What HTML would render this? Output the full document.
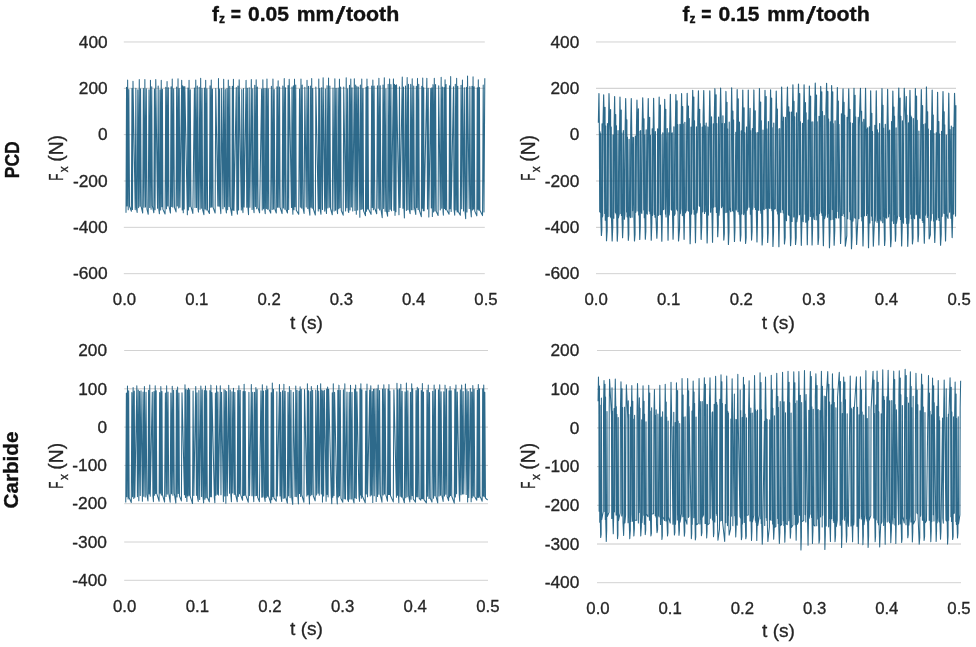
<!DOCTYPE html>
<html><head><meta charset="utf-8"><title>Cutting force Fx</title>
<style>html,body{margin:0;padding:0;background:#fff}svg{display:block}</style></head>
<body>
<svg width="976" height="647" viewBox="0 0 976 647" font-family="'Liberation Sans', Arial, sans-serif">
<rect width="976" height="647" fill="#ffffff"/>
<defs><filter id="soft" x="-2%" y="-5%" width="104%" height="110%"><feGaussianBlur stdDeviation="0.62 0.35"/></filter></defs>
<line x1="123.8" x2="484.8" y1="41.97" y2="41.97" stroke="#d2d2d2" stroke-width="1"/>
<text x="107.60" y="47.67" font-size="16" text-anchor="end" font-weight="normal" fill="#262626" stroke="#262626" stroke-width="0.3" textLength="28.80" lengthAdjust="spacingAndGlyphs">400</text>
<line x1="123.8" x2="484.8" y1="88.31" y2="88.31" stroke="#d2d2d2" stroke-width="1"/>
<text x="107.60" y="94.01" font-size="16" text-anchor="end" font-weight="normal" fill="#262626" stroke="#262626" stroke-width="0.3" textLength="28.80" lengthAdjust="spacingAndGlyphs">200</text>
<line x1="123.8" x2="484.8" y1="134.65" y2="134.65" stroke="#d2d2d2" stroke-width="1"/>
<text x="107.60" y="140.35" font-size="16" text-anchor="end" font-weight="normal" fill="#262626" stroke="#262626" stroke-width="0.3" textLength="9.60" lengthAdjust="spacingAndGlyphs">0</text>
<line x1="123.8" x2="484.8" y1="180.99" y2="180.99" stroke="#d2d2d2" stroke-width="1"/>
<text x="107.60" y="186.69" font-size="16" text-anchor="end" font-weight="normal" fill="#262626" stroke="#262626" stroke-width="0.3" textLength="34.65" lengthAdjust="spacingAndGlyphs">-200</text>
<line x1="123.8" x2="484.8" y1="227.33" y2="227.33" stroke="#d2d2d2" stroke-width="1"/>
<text x="107.60" y="233.03" font-size="16" text-anchor="end" font-weight="normal" fill="#262626" stroke="#262626" stroke-width="0.3" textLength="34.65" lengthAdjust="spacingAndGlyphs">-400</text>
<line x1="123.8" x2="484.8" y1="273.67" y2="273.67" stroke="#d2d2d2" stroke-width="1"/>
<text x="107.60" y="279.37" font-size="16" text-anchor="end" font-weight="normal" fill="#262626" stroke="#262626" stroke-width="0.3" textLength="34.65" lengthAdjust="spacingAndGlyphs">-600</text>
<text x="124.50" y="305.40" font-size="16" text-anchor="middle" font-weight="normal" fill="#262626" stroke="#262626" stroke-width="0.3" textLength="23.30" lengthAdjust="spacingAndGlyphs">0.0</text>
<text x="196.80" y="305.40" font-size="16" text-anchor="middle" font-weight="normal" fill="#262626" stroke="#262626" stroke-width="0.3" textLength="23.30" lengthAdjust="spacingAndGlyphs">0.1</text>
<text x="269.10" y="305.40" font-size="16" text-anchor="middle" font-weight="normal" fill="#262626" stroke="#262626" stroke-width="0.3" textLength="23.30" lengthAdjust="spacingAndGlyphs">0.2</text>
<text x="341.40" y="305.40" font-size="16" text-anchor="middle" font-weight="normal" fill="#262626" stroke="#262626" stroke-width="0.3" textLength="23.30" lengthAdjust="spacingAndGlyphs">0.3</text>
<text x="413.70" y="305.40" font-size="16" text-anchor="middle" font-weight="normal" fill="#262626" stroke="#262626" stroke-width="0.3" textLength="23.30" lengthAdjust="spacingAndGlyphs">0.4</text>
<text x="486.00" y="305.40" font-size="16" text-anchor="middle" font-weight="normal" fill="#262626" stroke="#262626" stroke-width="0.3" textLength="23.30" lengthAdjust="spacingAndGlyphs">0.5</text>
<path d="M126.00 212.71 L126.54 87.29 L127.07 205.94 L127.64 79.96 L128.23 209.70 L128.83 89.55 L129.53 206.27 L131.38 211.27 L131.98 88.61 L132.51 209.57 L132.99 81.23 L135.21 209.61 L135.86 88.19 L136.38 207.74 L137.14 212.49 L137.83 89.74 L138.62 207.60 L139.27 79.43 L139.99 206.13 L140.55 88.69 L141.21 206.59 L142.69 213.01 L143.39 88.45 L144.01 207.22 L144.87 79.57 L145.52 207.08 L146.30 88.82 L146.97 209.20 L148.23 214.29 L149.02 89.77 L149.74 207.42 L150.44 80.18 L151.08 209.26 L151.74 86.69 L152.35 205.86 L153.85 212.82 L154.44 89.08 L155.06 209.83 L155.77 79.53 L157.54 208.32 L158.18 85.95 L158.84 209.40 L159.40 213.84 L160.01 89.83 L160.66 209.96 L161.24 80.23 L161.87 206.71 L162.39 89.30 L162.90 209.39 L165.07 213.93 L165.77 87.22 L166.44 208.84 L167.06 81.46 L167.65 205.88 L168.34 87.67 L168.92 205.76 L170.43 213.11 L171.08 86.80 L171.68 206.56 L172.24 78.98 L172.84 207.12 L173.64 88.83 L174.41 207.32 L176.05 211.92 L176.65 87.01 L177.33 205.92 L178.02 78.83 L178.70 208.08 L179.22 88.41 L179.94 207.34 L181.70 80.32 L182.25 210.02 L182.71 85.72 L183.28 212.84 L183.70 86.73 L184.20 209.07 L184.82 86.45 L187.36 214.79 L187.92 88.10 L188.42 210.02 L189.05 80.31 L189.72 206.70 L190.28 89.78 L190.96 206.47 L192.84 213.43 L194.42 88.06 L195.04 207.45 L195.77 80.11 L196.53 207.58 L197.30 85.98 L197.88 207.35 L198.44 212.12 L199.20 87.18 L200.00 209.18 L200.67 78.23 L201.34 208.29 L202.05 88.40 L202.68 209.84 L203.91 214.73 L204.42 88.02 L205.13 209.02 L205.68 80.30 L206.24 209.99 L206.93 88.82 L207.57 209.75 L209.42 213.50 L210.04 85.88 L210.71 207.19 L211.25 79.95 L211.80 206.97 L212.42 89.06 L213.09 207.42 L215.12 213.01 L215.77 88.57 L217.85 206.05 L218.49 78.56 L219.07 206.30 L219.63 89.11 L220.21 207.01 L220.85 213.64 L221.67 88.54 L222.93 208.79 L223.68 79.38 L224.45 206.82 L225.26 89.41 L225.84 208.76 L226.41 213.04 L226.99 88.63 L227.64 209.66 L228.29 80.03 L229.06 206.49 L229.75 86.30 L230.33 207.13 L231.86 215.50 L232.33 86.31 L232.92 209.99 L233.41 79.29 L233.97 210.40 L236.30 87.52 L236.85 210.00 L237.42 214.16 L237.95 86.06 L238.56 209.99 L239.16 79.77 L241.32 210.09 L241.81 89.57 L242.36 206.45 L242.99 212.61 L243.49 88.58 L244.13 206.99 L246.07 80.30 L246.75 207.29 L247.35 88.34 L247.88 206.90 L248.52 214.71 L249.19 87.73 L249.86 207.14 L251.31 79.43 L252.10 209.43 L252.74 88.72 L253.48 207.58 L254.07 212.72 L254.74 85.23 L255.41 206.50 L256.17 79.81 L256.71 208.65 L257.35 86.96 L258.03 207.55 L259.60 212.85 L261.65 88.99 L262.23 209.89 L262.87 79.77 L263.46 208.76 L264.06 88.43 L264.59 207.65 L265.23 213.82 L265.89 88.42 L266.38 208.58 L266.96 78.97 L267.65 209.31 L268.27 88.73 L268.89 209.12 L270.71 213.13 L271.39 86.35 L272.18 209.55 L272.94 79.10 L273.58 208.95 L274.18 89.46 L274.94 209.29 L276.29 212.97 L276.96 86.87 L277.53 207.24 L278.14 80.66 L278.85 207.24 L279.58 87.11 L280.12 207.50 L282.10 213.59 L282.82 86.07 L283.43 208.09 L284.25 78.64 L284.88 209.27 L285.51 87.79 L286.13 209.79 L287.46 213.01 L288.07 85.55 L288.67 209.55 L289.19 79.32 L291.46 207.58 L292.00 87.10 L292.55 206.90 L292.89 214.19 L293.38 85.68 L293.98 209.76 L294.51 79.15 L295.06 206.77 L295.74 85.03 L296.27 210.20 L298.72 214.35 L299.55 88.96 L300.37 207.11 L300.97 78.97 L301.63 208.11 L302.21 85.10 L303.01 208.13 L304.09 213.51 L304.85 87.36 L306.23 206.89 L307.03 80.21 L307.81 208.41 L308.47 86.33 L309.06 208.83 L309.88 215.21 L310.39 86.04 L311.06 207.17 L311.70 78.59 L312.23 208.14 L312.77 88.58 L313.47 209.36 L315.32 215.00 L315.85 87.05 L318.25 211.03 L318.78 79.05 L319.28 208.75 L319.86 88.52 L320.33 210.81 L320.97 214.33 L321.65 87.83 L322.45 209.52 L323.13 77.86 L324.71 211.11 L325.35 89.00 L325.92 208.07 L326.50 213.57 L327.08 85.65 L327.86 208.00 L328.54 78.02 L329.30 207.19 L329.87 85.91 L330.57 208.74 L332.29 214.74 L333.00 88.03 L334.12 210.99 L334.86 78.83 L335.52 210.14 L336.16 88.26 L336.95 209.24 L337.57 213.62 L338.11 87.96 L338.76 208.75 L339.46 79.15 L339.99 207.80 L340.62 87.07 L341.30 210.48 L343.19 215.17 L343.73 87.07 L345.63 210.93 L346.21 77.78 L346.87 207.77 L347.64 88.69 L348.19 210.95 L348.74 212.56 L349.49 85.18 L350.02 209.88 L350.79 79.05 L351.37 207.09 L352.03 87.89 L352.75 210.93 L354.34 78.79 L354.96 210.53 L355.69 85.10 L356.30 214.34 L356.94 86.58 L357.67 209.91 L358.31 87.13 L359.83 217.14 L360.36 85.10 L361.10 209.59 L361.77 79.00 L362.31 208.85 L363.03 88.64 L363.55 210.88 L365.44 215.67 L366.02 87.17 L366.43 211.28 L366.97 79.10 L367.44 209.05 L367.97 86.49 L368.53 209.07 L371.06 214.38 L371.68 86.07 L372.31 207.43 L372.86 79.91 L373.40 209.81 L374.11 86.08 L374.78 208.25 L376.69 213.79 L377.46 85.73 L378.24 208.27 L378.90 78.24 L379.65 210.00 L380.23 85.81 L380.91 208.83 L382.22 217.77 L383.01 85.03 L383.62 208.56 L384.31 77.72 L385.11 211.35 L385.89 88.66 L386.44 210.80 L387.61 216.14 L388.16 84.32 L388.95 211.59 L389.60 78.90 L390.20 209.29 L390.93 84.64 L391.47 210.84 L393.44 78.90 L393.90 210.37 L394.52 84.39 L395.02 215.37 L395.52 85.24 L395.96 211.68 L396.56 84.83 L398.95 214.63 L399.45 86.84 L400.09 207.58 L402.27 76.93 L402.93 208.19 L403.51 87.09 L404.03 209.52 L404.39 217.86 L405.54 85.99 L406.35 210.49 L407.16 77.45 L407.80 209.62 L408.44 84.23 L409.26 209.90 L410.12 213.63 L410.73 84.40 L411.41 209.64 L412.21 78.81 L412.95 209.67 L413.72 86.11 L414.45 207.67 L415.77 214.51 L416.34 86.23 L416.85 207.60 L417.49 78.40 L418.09 209.55 L418.73 84.38 L419.31 210.05 L421.32 216.71 L421.80 86.17 L422.35 208.16 L422.73 78.09 L423.25 210.71 L423.72 87.68 L424.16 210.72 L426.85 78.28 L427.52 209.05 L428.20 88.36 L428.81 216.93 L430.77 88.44 L431.28 208.07 L431.88 87.66 L432.35 216.55 L433.00 84.65 L433.59 212.04 L434.30 78.24 L434.92 210.91 L435.56 84.62 L436.22 211.25 L438.10 215.42 L438.70 85.75 L440.28 209.87 L441.16 77.29 L441.75 208.20 L442.39 87.00 L443.05 211.72 L443.38 215.19 L444.01 87.58 L444.52 208.57 L445.07 79.79 L445.53 209.66 L446.09 84.56 L446.69 209.75 L449.06 214.27 L449.57 85.77 L450.05 208.72 L450.67 76.52 L451.15 211.44 L453.50 86.78 L454.01 209.00 L454.72 215.19 L455.31 84.20 L455.96 210.03 L456.64 78.26 L457.17 212.05 L457.76 86.34 L458.22 211.43 L460.35 215.27 L461.06 85.16 L461.69 208.81 L462.42 79.94 L463.54 211.01 L464.28 87.86 L465.08 211.94 L465.70 218.69 L466.39 87.26 L466.94 211.92 L467.52 76.10 L469.21 208.42 L469.87 86.42 L470.53 208.36 L471.32 216.86 L471.99 86.24 L472.58 210.09 L473.06 76.89 L473.62 208.97 L474.17 86.71 L474.76 211.09 L476.83 215.85 L477.26 87.72 L477.84 209.26 L478.31 79.67 L478.89 210.32 L479.42 87.40 L479.93 210.25 L482.54 215.60 L483.22 85.06 L483.97 211.91 L484.80 78.20" fill="none" stroke="#2d6a8b" stroke-width="1.05" stroke-linejoin="round" filter="url(#soft)"/>
<line x1="124.5" x2="484.8" y1="88.31" y2="88.31" stroke="#000" stroke-opacity="0.045" stroke-width="1"/>
<line x1="124.5" x2="484.8" y1="134.65" y2="134.65" stroke="#000" stroke-opacity="0.045" stroke-width="1"/>
<line x1="124.5" x2="484.8" y1="180.99" y2="180.99" stroke="#000" stroke-opacity="0.045" stroke-width="1"/>
<line x1="596.0" x2="956.0" y1="41.97" y2="41.97" stroke="#d2d2d2" stroke-width="1"/>
<text x="579.30" y="47.67" font-size="16" text-anchor="end" font-weight="normal" fill="#262626" stroke="#262626" stroke-width="0.3" textLength="28.80" lengthAdjust="spacingAndGlyphs">400</text>
<line x1="596.0" x2="956.0" y1="88.31" y2="88.31" stroke="#d2d2d2" stroke-width="1"/>
<text x="579.30" y="94.01" font-size="16" text-anchor="end" font-weight="normal" fill="#262626" stroke="#262626" stroke-width="0.3" textLength="28.80" lengthAdjust="spacingAndGlyphs">200</text>
<line x1="596.0" x2="956.0" y1="134.65" y2="134.65" stroke="#d2d2d2" stroke-width="1"/>
<text x="579.30" y="140.35" font-size="16" text-anchor="end" font-weight="normal" fill="#262626" stroke="#262626" stroke-width="0.3" textLength="9.60" lengthAdjust="spacingAndGlyphs">0</text>
<line x1="596.0" x2="956.0" y1="180.99" y2="180.99" stroke="#d2d2d2" stroke-width="1"/>
<text x="579.30" y="186.69" font-size="16" text-anchor="end" font-weight="normal" fill="#262626" stroke="#262626" stroke-width="0.3" textLength="34.65" lengthAdjust="spacingAndGlyphs">-200</text>
<line x1="596.0" x2="956.0" y1="227.33" y2="227.33" stroke="#d2d2d2" stroke-width="1"/>
<text x="579.30" y="233.03" font-size="16" text-anchor="end" font-weight="normal" fill="#262626" stroke="#262626" stroke-width="0.3" textLength="34.65" lengthAdjust="spacingAndGlyphs">-400</text>
<line x1="596.0" x2="956.0" y1="273.67" y2="273.67" stroke="#d2d2d2" stroke-width="1"/>
<text x="579.30" y="279.37" font-size="16" text-anchor="end" font-weight="normal" fill="#262626" stroke="#262626" stroke-width="0.3" textLength="34.65" lengthAdjust="spacingAndGlyphs">-600</text>
<text x="596.10" y="305.40" font-size="16" text-anchor="middle" font-weight="normal" fill="#262626" stroke="#262626" stroke-width="0.3" textLength="23.30" lengthAdjust="spacingAndGlyphs">0.0</text>
<text x="668.70" y="305.40" font-size="16" text-anchor="middle" font-weight="normal" fill="#262626" stroke="#262626" stroke-width="0.3" textLength="23.30" lengthAdjust="spacingAndGlyphs">0.1</text>
<text x="741.30" y="305.40" font-size="16" text-anchor="middle" font-weight="normal" fill="#262626" stroke="#262626" stroke-width="0.3" textLength="23.30" lengthAdjust="spacingAndGlyphs">0.2</text>
<text x="813.90" y="305.40" font-size="16" text-anchor="middle" font-weight="normal" fill="#262626" stroke="#262626" stroke-width="0.3" textLength="23.30" lengthAdjust="spacingAndGlyphs">0.3</text>
<text x="886.50" y="305.40" font-size="16" text-anchor="middle" font-weight="normal" fill="#262626" stroke="#262626" stroke-width="0.3" textLength="23.30" lengthAdjust="spacingAndGlyphs">0.4</text>
<text x="959.10" y="305.40" font-size="16" text-anchor="middle" font-weight="normal" fill="#262626" stroke="#262626" stroke-width="0.3" textLength="23.30" lengthAdjust="spacingAndGlyphs">0.5</text>
<path d="M598.38 122.73 L598.95 93.51 L599.39 131.64 L599.73 211.77 L600.06 131.82 L600.33 212.30 L600.59 133.56 L600.83 217.30 L601.40 235.45 L601.82 229.94 L602.05 123.80 L602.37 217.04 L602.71 215.70 L603.05 123.50 L603.67 94.71 L604.34 129.72 L604.71 213.39 L605.02 107.33 L605.30 220.14 L605.66 126.05 L606.06 211.81 L606.52 240.72 L607.15 230.59 L607.44 123.50 L607.77 211.41 L608.15 216.55 L608.45 133.36 L608.99 93.69 L609.86 130.01 L610.20 216.35 L610.57 109.57 L610.84 217.63 L611.22 126.97 L611.55 218.91 L612.15 240.92 L612.72 227.35 L613.08 135.01 L613.38 212.15 L613.80 218.17 L614.14 125.42 L614.64 96.55 L615.08 135.18 L615.39 212.36 L615.71 114.53 L616.07 213.80 L616.43 125.72 L616.68 213.76 L617.26 241.11 L617.74 231.67 L618.07 130.58 L618.36 217.94 L619.21 213.82 L619.52 134.44 L619.98 97.08 L620.56 130.55 L620.83 213.45 L621.21 110.00 L621.48 215.51 L621.79 132.91 L622.11 219.68 L622.58 237.76 L623.09 225.09 L623.38 130.57 L624.39 219.15 L624.83 214.18 L625.12 132.03 L625.67 98.61 L626.28 130.14 L626.56 211.93 L626.86 119.80 L627.11 216.86 L627.44 137.08 L627.74 210.34 L628.32 240.32 L628.79 234.45 L629.12 139.22 L629.45 212.69 L630.42 217.58 L630.75 127.71 L631.27 98.58 L631.75 132.55 L632.04 217.16 L632.30 137.16 L632.60 210.56 L633.59 137.45 L633.88 213.33 L634.48 241.02 L635.03 234.19 L635.36 136.00 L635.72 212.41 L636.09 210.21 L636.48 127.65 L636.96 100.18 L637.64 136.35 L638.02 210.99 L638.37 108.92 L638.69 214.92 L638.99 131.11 L639.27 214.32 L639.74 239.51 L640.27 226.17 L640.60 130.49 L640.98 209.86 L641.82 213.48 L642.14 128.59 L642.72 97.87 L643.36 127.05 L643.72 209.89 L643.98 118.71 L644.30 217.64 L644.58 134.94 L644.85 214.33 L645.33 239.25 L645.81 231.29 L646.19 129.85 L646.54 211.39 L647.25 214.14 L647.64 130.30 L648.25 98.61 L648.71 131.95 L649.29 211.11 L649.67 117.33 L650.05 213.79 L650.40 135.22 L650.71 212.26 L651.24 240.24 L651.84 223.00 L652.22 128.86 L652.53 215.35 L652.80 212.07 L653.09 139.19 L653.62 98.31 L654.11 127.43 L654.41 214.43 L654.72 134.99 L655.06 217.16 L655.38 131.67 L655.71 211.95 L656.85 238.29 L657.33 226.87 L657.62 128.94 L658.01 208.96 L658.36 215.35 L658.66 137.45 L659.15 97.17 L659.73 137.02 L660.08 214.44 L660.34 105.19 L660.61 214.65 L660.90 134.89 L661.20 209.57 L661.82 241.15 L662.43 209.53 L662.80 132.76 L663.13 209.71 L663.93 209.35 L664.25 129.15 L664.72 99.36 L665.20 126.63 L665.50 214.07 L665.80 109.32 L666.06 216.90 L667.24 128.56 L667.55 208.77 L668.05 240.23 L668.57 211.21 L668.86 132.76 L669.17 214.92 L669.38 211.78 L669.73 129.34 L670.35 94.33 L670.97 132.66 L671.26 209.55 L671.61 133.94 L671.98 210.32 L672.25 132.77 L672.55 215.09 L673.06 239.27 L673.61 223.72 L673.90 126.72 L674.24 215.44 L675.04 213.80 L675.32 130.42 L675.89 94.63 L676.40 130.79 L676.68 209.28 L677.08 100.83 L677.40 210.66 L677.74 124.63 L678.07 212.01 L678.54 240.87 L679.58 228.17 L679.98 124.31 L680.28 213.62 L680.87 208.12 L681.11 128.92 L681.59 93.65 L682.11 127.77 L682.36 215.55 L682.70 106.50 L682.95 208.89 L683.27 123.84 L683.52 211.35 L684.09 239.34 L684.53 215.49 L684.85 122.24 L685.18 212.90 L686.34 210.57 L686.66 127.15 L687.18 93.29 L687.73 122.73 L688.07 210.40 L688.44 106.06 L688.85 211.30 L689.24 118.55 L689.57 212.39 L690.14 243.76 L690.71 224.17 L691.01 127.17 L691.42 214.19 L691.71 212.49 L692.00 128.34 L692.72 90.31 L693.20 120.95 L693.53 209.31 L693.84 97.06 L694.12 214.25 L694.48 120.73 L694.77 206.42 L695.47 242.79 L696.12 206.24 L696.45 126.81 L696.85 212.95 L697.44 209.01 L697.76 119.14 L698.44 90.76 L698.95 126.91 L699.28 205.75 L699.68 109.33 L699.95 206.51 L700.26 123.57 L700.64 212.94 L701.12 239.36 L701.79 223.72 L702.18 127.17 L702.47 211.82 L702.88 211.36 L703.16 116.60 L703.75 90.52 L704.20 117.33 L704.53 213.49 L704.88 125.84 L705.81 211.60 L706.17 123.06 L706.51 210.27 L707.13 242.90 L707.61 225.70 L707.92 126.95 L708.19 211.79 L708.38 215.11 L709.20 125.74 L709.77 90.91 L710.28 115.71 L710.60 212.27 L710.93 125.05 L711.25 207.69 L711.52 116.94 L711.90 210.51 L712.54 242.30 L712.98 211.60 L713.36 123.77 L713.68 207.22 L713.97 206.76 L714.26 120.05 L714.89 88.70 L715.45 113.01 L715.79 206.81 L716.10 94.80 L716.42 212.50 L716.79 123.62 L717.12 206.29 L717.72 236.66 L718.27 224.19 L718.61 117.11 L719.01 215.22 L719.66 205.60 L719.98 121.62 L720.61 88.14 L721.21 118.05 L721.56 207.62 L722.31 123.48 L722.57 206.06 L722.92 115.85 L723.23 209.97 L723.82 240.06 L724.31 233.77 L724.62 123.63 L724.98 209.22 L725.17 212.62 L725.51 128.16 L725.95 91.45 L726.39 120.18 L726.72 212.30 L726.99 102.23 L727.30 206.62 L727.60 128.94 L727.86 212.82 L728.42 244.45 L728.98 231.70 L729.23 122.14 L729.50 207.64 L730.81 211.75 L731.16 125.09 L731.65 87.91 L732.20 121.47 L732.57 210.51 L732.90 111.13 L733.22 211.62 L733.57 119.95 L733.86 210.76 L734.47 241.40 L734.90 230.26 L735.82 132.22 L736.10 206.76 L736.33 209.88 L736.67 130.57 L737.17 89.48 L737.63 131.50 L737.91 211.68 L738.26 98.90 L739.12 214.13 L739.47 122.17 L739.73 213.11 L740.36 241.06 L740.88 234.93 L741.25 130.91 L741.58 209.98 L741.81 213.83 L742.14 130.72 L742.79 90.13 L743.27 127.52 L743.66 214.58 L744.08 107.77 L744.43 212.86 L744.75 132.80 L745.06 214.15 L745.57 243.36 L746.12 237.69 L746.51 126.95 L746.79 210.57 L747.45 208.43 L747.80 130.90 L748.26 89.98 L748.76 126.21 L749.07 207.26 L750.08 108.38 L750.35 214.21 L750.69 130.55 L751.04 214.47 L751.56 240.06 L752.08 231.34 L752.37 128.65 L752.69 209.12 L752.98 205.98 L753.36 125.91 L753.87 89.95 L754.52 130.90 L754.90 207.53 L755.23 110.75 L755.58 209.43 L756.00 132.89 L756.37 214.28 L756.97 241.90 L757.47 219.67 L757.77 132.47 L758.17 207.97 L758.50 210.26 L758.82 130.34 L759.45 88.57 L760.01 124.97 L760.35 210.58 L760.66 102.02 L760.94 213.23 L761.29 120.93 L761.61 214.44 L762.13 245.04 L762.63 236.33 L762.98 130.10 L763.29 208.18 L764.21 209.56 L764.48 129.78 L765.01 90.44 L765.57 124.40 L765.83 208.38 L766.19 96.54 L766.47 207.85 L766.83 128.73 L767.16 208.47 L767.67 242.37 L768.16 232.71 L768.41 121.50 L768.66 206.95 L769.74 208.36 L770.09 122.02 L770.57 89.87 L771.03 131.01 L771.31 208.55 L771.63 98.01 L771.91 210.70 L772.19 127.69 L772.45 209.33 L772.94 246.44 L773.53 231.49 L773.78 123.00 L774.09 209.09 L775.30 208.66 L775.63 127.78 L776.23 91.11 L776.78 117.92 L777.08 211.04 L777.38 109.11 L777.67 213.97 L777.94 128.83 L778.23 209.87 L778.89 246.75 L779.33 224.26 L779.69 128.51 L780.05 208.74 L780.83 212.58 L781.12 124.08 L781.64 87.05 L782.29 120.44 L782.58 209.77 L782.91 121.65 L783.22 212.85 L783.61 117.19 L783.90 210.05 L784.45 243.99 L785.13 237.60 L785.50 117.39 L785.88 209.64 L786.47 220.60 L786.77 111.92 L787.45 86.96 L788.06 122.61 L788.37 214.62 L788.76 106.93 L789.08 215.49 L789.57 112.03 L789.88 213.11 L790.56 245.61 L791.04 237.74 L791.40 112.11 L791.71 215.93 L792.06 221.44 L792.31 120.45 L792.91 84.81 L793.46 112.17 L793.75 216.94 L794.01 101.41 L794.35 211.97 L794.66 116.74 L794.92 215.21 L795.54 244.50 L796.15 237.59 L796.51 112.84 L796.85 221.73 L797.58 215.82 L797.92 109.44 L798.48 84.01 L799.01 108.59 L799.43 214.69 L799.72 93.68 L800.04 213.95 L800.44 121.77 L800.76 215.83 L801.31 245.35 L802.04 215.34 L802.44 123.24 L802.80 212.61 L803.18 221.58 L803.56 119.41 L804.09 84.88 L804.70 114.12 L805.08 214.15 L805.46 102.66 L805.76 222.15 L806.10 112.84 L806.76 212.54 L807.30 244.70 L807.84 214.57 L808.13 120.07 L808.39 220.15 L808.64 219.18 L808.92 117.36 L809.38 86.02 L809.97 122.79 L810.33 216.50 L810.62 96.14 L810.96 210.96 L811.25 121.70 L811.55 211.63 L812.08 244.92 L812.54 229.26 L812.81 121.74 L813.09 212.89 L814.31 219.38 L814.65 114.64 L815.26 83.18 L815.87 117.79 L816.15 219.80 L816.51 94.98 L816.84 215.11 L817.18 121.79 L817.54 212.43 L818.06 244.53 L818.69 237.39 L819.06 116.33 L819.42 213.65 L819.85 210.75 L820.19 109.92 L820.73 86.45 L821.28 119.20 L821.55 212.99 L821.79 91.76 L822.14 215.43 L822.48 111.64 L822.80 220.52 L823.39 245.77 L823.94 217.03 L824.25 115.52 L824.54 218.66 L825.57 214.68 L825.96 109.14 L826.59 83.27 L827.17 114.81 L827.54 217.17 L827.88 91.45 L828.26 213.49 L828.55 119.04 L828.87 213.49 L829.46 247.80 L829.96 231.18 L830.31 121.86 L830.61 209.78 L830.94 219.73 L831.22 111.61 L831.64 85.69 L832.11 120.83 L832.46 209.58 L832.74 91.90 L833.00 219.31 L833.28 123.61 L833.59 210.30 L834.14 245.25 L834.75 230.81 L835.11 120.73 L835.48 217.27 L836.49 217.89 L836.84 120.64 L837.35 87.53 L837.78 115.17 L838.08 211.46 L838.35 101.13 L838.64 217.99 L838.93 124.29 L839.99 213.62 L840.57 243.44 L841.12 228.56 L841.40 113.82 L841.73 211.02 L842.15 215.49 L842.46 114.01 L843.04 88.83 L843.44 116.53 L843.71 213.70 L844.05 102.39 L844.33 216.47 L844.67 115.31 L844.92 219.81 L845.32 246.15 L846.82 235.70 L847.09 117.32 L847.38 215.87 L847.71 218.74 L848.03 121.47 L848.73 88.91 L849.33 120.69 L849.64 211.72 L849.92 109.24 L850.23 219.61 L850.55 122.78 L850.89 212.85 L851.48 248.79 L852.08 236.37 L852.67 123.34 L852.96 221.05 L853.24 216.63 L853.53 126.14 L854.00 88.21 L854.41 120.58 L854.77 217.76 L855.07 95.31 L855.33 218.20 L855.68 116.92 L856.04 221.28 L856.62 244.51 L857.92 218.36 L858.19 117.42 L858.50 215.36 L858.88 218.55 L859.22 126.33 L860.45 88.25 L860.99 119.58 L861.33 216.71 L861.59 111.21 L861.86 220.85 L862.20 122.18 L862.47 218.89 L863.00 246.03 L863.48 226.89 L863.78 119.40 L864.13 215.27 L864.51 215.81 L864.98 126.21 L865.55 88.36 L866.14 132.39 L866.55 215.45 L866.89 129.44 L867.29 213.32 L867.63 127.80 L867.96 215.27 L868.51 247.72 L869.04 221.63 L869.38 126.71 L869.68 216.34 L869.89 222.94 L870.17 135.09 L870.66 90.78 L871.17 122.94 L871.53 216.10 L871.84 113.22 L872.18 220.49 L872.51 131.66 L872.82 222.79 L873.34 246.13 L874.55 217.24 L874.86 125.23 L875.19 220.87 L875.48 214.72 L875.73 133.86 L876.27 90.79 L876.76 128.67 L877.06 222.36 L877.40 129.93 L877.76 220.41 L878.12 132.78 L878.45 218.43 L878.87 245.04 L879.31 227.61 L879.62 123.62 L879.98 217.12 L881.15 221.02 L881.45 122.70 L881.99 88.50 L882.43 122.23 L882.74 222.76 L883.00 105.43 L883.27 216.35 L883.59 128.14 L883.95 213.83 L884.58 245.46 L885.04 239.49 L885.31 124.38 L885.61 216.90 L886.75 218.03 L887.10 126.44 L887.62 89.26 L888.22 125.85 L888.55 216.80 L888.97 131.31 L889.31 213.56 L889.66 130.00 L890.07 222.91 L890.71 246.62 L891.23 238.90 L891.55 121.54 L891.94 217.55 L892.05 221.00 L892.39 124.12 L892.85 91.04 L893.41 125.25 L893.66 223.49 L893.95 107.03 L894.24 214.40 L894.58 116.42 L894.92 220.16 L895.43 241.20 L895.84 234.32 L896.12 127.94 L896.40 223.30 L897.75 215.37 L898.14 115.50 L898.78 88.08 L899.43 126.59 L899.78 216.43 L900.12 98.16 L900.47 219.43 L900.81 116.23 L901.13 219.22 L901.66 245.99 L902.17 228.38 L902.44 120.78 L902.75 214.74 L903.48 223.22 L903.72 128.95 L904.25 88.29 L905.72 124.69 L906.03 217.61 L906.34 96.59 L906.68 223.60 L906.93 114.99 L907.27 218.00 L907.75 246.34 L908.18 232.99 L908.45 122.93 L908.72 223.20 L909.06 218.19 L909.34 128.11 L909.96 90.39 L910.40 116.53 L910.69 214.23 L910.98 115.95 L911.31 218.41 L911.61 117.66 L911.88 217.85 L912.43 243.83 L913.02 238.28 L913.36 118.60 L913.68 216.35 L914.57 218.73 L914.90 131.20 L915.37 88.67 L915.88 119.91 L916.18 214.76 L916.56 96.16 L916.89 213.58 L917.23 120.43 L917.51 213.61 L918.00 241.60 L918.61 234.18 L918.88 131.11 L919.25 217.09 L920.17 218.36 L920.78 124.23 L921.31 89.50 L921.92 128.33 L922.25 220.40 L922.60 105.67 L922.99 222.38 L923.34 124.58 L923.67 218.11 L924.31 243.29 L924.85 222.16 L925.11 123.83 L925.41 215.09 L925.68 212.84 L925.98 124.81 L926.44 86.95 L927.05 122.30 L927.33 217.43 L927.65 111.85 L927.96 215.77 L928.33 129.06 L928.66 213.06 L929.19 238.81 L930.32 234.78 L930.62 130.61 L930.97 220.56 L931.30 217.97 L931.65 123.19 L932.17 90.13 L932.71 129.10 L933.00 213.59 L933.25 115.12 L933.58 221.06 L933.86 133.44 L934.15 222.90 L934.76 242.41 L935.27 227.13 L936.22 132.85 L936.55 219.02 L936.76 219.86 L937.11 135.02 L937.59 92.34 L938.10 132.36 L938.47 217.57 L938.82 121.47 L939.12 220.42 L939.53 134.01 L939.86 217.53 L940.56 245.27 L941.19 234.45 L941.56 131.38 L941.91 216.56 L942.16 214.87 L942.43 125.53 L943.01 91.57 L943.61 126.05 L943.89 213.20 L944.16 111.86 L944.44 213.43 L944.71 124.76 L945.01 219.08 L945.54 240.90 L946.09 219.18 L946.35 135.02 L946.62 214.10 L948.03 218.35 L948.31 122.29 L948.78 93.20 L949.25 129.81 L949.61 212.25 L949.96 129.55 L950.97 218.30 L951.32 126.06 L951.66 219.08 L952.17 237.58 L952.75 213.97 L953.02 127.29 L953.35 213.38 L953.67 214.03 L953.96 131.57 L954.55 93.38 L955.21 120.40 L955.53 216.10 L955.87 105.21" fill="none" stroke="#2d6a8b" stroke-width="1.15" stroke-linejoin="round" filter="url(#soft)"/>
<line x1="596.3" x2="956.0" y1="88.31" y2="88.31" stroke="#000" stroke-opacity="0.045" stroke-width="1"/>
<line x1="596.3" x2="956.0" y1="134.65" y2="134.65" stroke="#000" stroke-opacity="0.045" stroke-width="1"/>
<line x1="596.3" x2="956.0" y1="180.99" y2="180.99" stroke="#000" stroke-opacity="0.045" stroke-width="1"/>
<line x1="596.3" x2="956.0" y1="227.33" y2="227.33" stroke="#000" stroke-opacity="0.045" stroke-width="1"/>
<line x1="124.2" x2="488.0" y1="350.50" y2="350.50" stroke="#d2d2d2" stroke-width="1"/>
<text x="107.00" y="356.20" font-size="16" text-anchor="end" font-weight="normal" fill="#262626" stroke="#262626" stroke-width="0.3" textLength="28.80" lengthAdjust="spacingAndGlyphs">200</text>
<line x1="124.2" x2="488.0" y1="388.80" y2="388.80" stroke="#d2d2d2" stroke-width="1"/>
<text x="107.00" y="394.50" font-size="16" text-anchor="end" font-weight="normal" fill="#262626" stroke="#262626" stroke-width="0.3" textLength="28.80" lengthAdjust="spacingAndGlyphs">100</text>
<line x1="124.2" x2="488.0" y1="427.10" y2="427.10" stroke="#d2d2d2" stroke-width="1"/>
<text x="107.00" y="432.80" font-size="16" text-anchor="end" font-weight="normal" fill="#262626" stroke="#262626" stroke-width="0.3" textLength="9.60" lengthAdjust="spacingAndGlyphs">0</text>
<line x1="124.2" x2="488.0" y1="465.40" y2="465.40" stroke="#d2d2d2" stroke-width="1"/>
<text x="107.00" y="471.10" font-size="16" text-anchor="end" font-weight="normal" fill="#262626" stroke="#262626" stroke-width="0.3" textLength="34.65" lengthAdjust="spacingAndGlyphs">-100</text>
<line x1="124.2" x2="488.0" y1="503.70" y2="503.70" stroke="#d2d2d2" stroke-width="1"/>
<text x="107.00" y="509.40" font-size="16" text-anchor="end" font-weight="normal" fill="#262626" stroke="#262626" stroke-width="0.3" textLength="34.65" lengthAdjust="spacingAndGlyphs">-200</text>
<line x1="124.2" x2="488.0" y1="542.00" y2="542.00" stroke="#d2d2d2" stroke-width="1"/>
<text x="107.00" y="547.70" font-size="16" text-anchor="end" font-weight="normal" fill="#262626" stroke="#262626" stroke-width="0.3" textLength="34.65" lengthAdjust="spacingAndGlyphs">-300</text>
<line x1="124.2" x2="488.0" y1="580.30" y2="580.30" stroke="#d2d2d2" stroke-width="1"/>
<text x="107.00" y="586.00" font-size="16" text-anchor="end" font-weight="normal" fill="#262626" stroke="#262626" stroke-width="0.3" textLength="34.65" lengthAdjust="spacingAndGlyphs">-400</text>
<text x="124.70" y="612.20" font-size="16" text-anchor="middle" font-weight="normal" fill="#262626" stroke="#262626" stroke-width="0.3" textLength="23.30" lengthAdjust="spacingAndGlyphs">0.0</text>
<text x="197.34" y="612.20" font-size="16" text-anchor="middle" font-weight="normal" fill="#262626" stroke="#262626" stroke-width="0.3" textLength="23.30" lengthAdjust="spacingAndGlyphs">0.1</text>
<text x="269.98" y="612.20" font-size="16" text-anchor="middle" font-weight="normal" fill="#262626" stroke="#262626" stroke-width="0.3" textLength="23.30" lengthAdjust="spacingAndGlyphs">0.2</text>
<text x="342.62" y="612.20" font-size="16" text-anchor="middle" font-weight="normal" fill="#262626" stroke="#262626" stroke-width="0.3" textLength="23.30" lengthAdjust="spacingAndGlyphs">0.3</text>
<text x="415.26" y="612.20" font-size="16" text-anchor="middle" font-weight="normal" fill="#262626" stroke="#262626" stroke-width="0.3" textLength="23.30" lengthAdjust="spacingAndGlyphs">0.4</text>
<text x="487.90" y="612.20" font-size="16" text-anchor="middle" font-weight="normal" fill="#262626" stroke="#262626" stroke-width="0.3" textLength="23.30" lengthAdjust="spacingAndGlyphs">0.5</text>
<path d="M125.76 502.52 L126.38 393.08 L126.84 496.66 L127.48 386.08 L128.11 498.88 L128.65 390.68 L129.17 497.69 L131.29 502.57 L131.86 392.64 L132.55 496.72 L133.12 387.62 L133.78 498.54 L134.27 391.13 L134.83 497.17 L136.83 385.84 L137.43 496.62 L138.23 389.90 L138.82 500.64 L139.59 391.38 L140.25 495.44 L141.01 390.71 L142.40 501.14 L143.05 391.95 L143.77 496.33 L144.42 386.45 L145.24 496.89 L146.01 392.33 L146.81 494.44 L147.97 500.96 L148.61 390.20 L149.15 494.04 L149.75 385.05 L150.24 496.16 L152.29 392.29 L152.90 495.79 L153.44 501.66 L154.01 391.61 L154.61 495.34 L155.21 385.81 L155.71 493.51 L156.19 390.86 L156.74 493.31 L159.11 501.31 L159.66 392.41 L160.21 493.20 L160.84 386.45 L161.32 495.12 L161.94 391.40 L162.44 494.60 L164.58 502.12 L165.39 393.08 L166.04 496.51 L166.64 385.88 L167.24 494.11 L168.00 391.96 L168.73 493.22 L170.17 502.27 L170.87 392.93 L171.56 493.81 L172.25 386.18 L172.93 495.26 L173.58 390.36 L174.29 493.27 L175.84 503.09 L176.40 390.04 L177.04 496.88 L177.60 387.09 L178.26 493.58 L178.94 392.96 L179.45 496.02 L181.40 500.93 L182.00 392.78 L184.44 494.67 L184.99 384.77 L185.46 497.55 L186.05 389.60 L186.52 493.80 L186.92 501.49 L187.49 389.94 L188.01 495.94 L188.50 388.20 L189.18 495.30 L189.65 389.85 L190.19 496.19 L192.53 503.58 L193.09 390.94 L193.85 495.59 L195.74 386.46 L196.42 495.36 L196.99 392.87 L197.56 497.50 L198.22 501.52 L198.90 390.61 L199.66 499.41 L200.87 385.94 L201.60 496.40 L202.21 389.70 L203.01 496.89 L203.65 503.07 L204.34 390.58 L204.90 499.21 L205.48 386.02 L206.10 497.84 L206.66 390.87 L207.33 497.26 L209.34 501.85 L209.83 390.65 L210.30 496.83 L210.91 385.15 L211.41 496.65 L211.90 392.47 L214.34 497.60 L214.86 502.79 L215.40 392.99 L215.89 495.25 L216.58 385.67 L217.29 494.13 L217.91 391.90 L218.42 495.11 L220.30 385.86 L220.96 494.80 L221.52 392.26 L223.40 501.61 L224.04 389.50 L224.70 496.08 L225.37 390.40 L225.86 503.16 L226.62 391.60 L227.27 495.65 L228.73 385.23 L229.53 493.15 L230.23 389.94 L230.85 494.77 L231.43 501.84 L232.00 391.71 L232.71 493.00 L233.46 388.24 L234.24 494.51 L234.81 392.19 L235.36 493.37 L237.25 501.83 L237.77 390.57 L238.36 496.36 L238.89 385.72 L239.51 493.73 L240.18 390.34 L240.77 495.09 L242.58 500.25 L243.08 391.53 L243.57 495.54 L244.12 384.26 L244.66 495.16 L245.17 391.56 L245.75 495.10 L248.28 502.31 L248.92 392.22 L249.62 495.57 L251.33 384.50 L251.98 495.66 L252.74 392.36 L253.31 494.69 L253.78 501.83 L254.55 392.32 L255.17 495.69 L255.87 387.50 L256.57 495.42 L257.12 389.57 L257.67 497.41 L259.38 501.65 L260.97 390.88 L261.78 497.13 L262.33 384.77 L262.90 497.03 L263.48 391.00 L264.29 495.71 L265.09 501.47 L265.69 390.40 L266.20 497.42 L266.80 386.10 L267.33 496.26 L267.88 389.45 L268.37 495.59 L270.73 502.95 L271.25 392.65 L271.80 499.64 L272.31 383.11 L272.87 496.38 L273.49 389.16 L273.94 497.87 L276.23 501.30 L276.85 391.78 L277.32 496.03 L279.46 384.48 L280.02 495.90 L280.63 392.26 L281.18 498.20 L281.73 501.56 L282.50 390.70 L283.23 498.36 L283.90 384.21 L284.53 497.90 L285.12 391.29 L285.73 497.13 L287.34 503.19 L287.98 392.36 L288.61 495.87 L289.40 386.43 L290.12 497.61 L290.90 390.30 L291.63 497.00 L292.74 504.53 L293.33 392.17 L295.05 496.51 L295.77 385.95 L296.34 496.61 L297.01 390.34 L297.70 494.47 L298.39 504.06 L299.03 391.08 L299.51 493.42 L300.12 386.79 L300.63 496.51 L301.27 389.30 L301.84 495.02 L303.93 502.26 L304.52 389.62 L306.85 496.10 L307.40 383.78 L307.87 494.80 L308.46 390.65 L308.93 493.74 L309.49 504.06 L310.20 391.64 L310.75 495.78 L311.33 386.60 L311.88 494.58 L312.62 390.23 L313.29 495.84 L315.17 500.84 L315.78 390.15 L316.61 495.01 L317.48 385.40 L318.08 493.23 L318.68 391.12 L319.27 495.16 L320.67 383.85 L321.29 493.97 L321.88 389.91 L322.48 502.10 L323.04 391.05 L323.64 495.93 L324.33 390.25 L326.12 501.23 L326.65 388.99 L327.14 494.37 L327.63 387.07 L328.10 496.85 L328.66 389.34 L331.25 495.24 L331.78 503.72 L332.28 392.68 L332.80 497.33 L333.29 383.74 L333.95 495.61 L334.59 392.36 L336.77 497.35 L337.29 504.08 L337.82 390.33 L338.39 496.96 L338.93 385.15 L339.55 495.67 L340.25 390.33 L340.97 498.46 L342.80 502.16 L343.42 389.66 L344.20 498.78 L344.83 383.73 L345.45 498.93 L346.98 392.05 L347.64 499.28 L348.45 501.62 L349.21 392.19 L349.83 498.93 L350.52 385.24 L351.30 498.90 L352.01 392.21 L352.76 498.43 L354.03 502.96 L354.59 389.35 L355.08 497.67 L355.65 384.95 L356.32 498.40 L356.91 391.82 L359.00 496.78 L359.53 501.37 L359.94 388.87 L360.43 495.03 L360.87 383.80 L361.35 498.20 L361.87 389.81 L362.32 495.98 L365.24 502.75 L365.84 390.98 L366.34 493.90 L367.00 384.14 L367.54 496.74 L369.71 389.94 L370.25 495.93 L370.80 385.83 L371.42 495.02 L372.21 391.58 L372.76 502.44 L373.48 389.20 L374.23 495.64 L374.89 389.05 L376.21 501.49 L376.97 388.88 L377.55 496.50 L378.18 384.92 L378.93 494.28 L379.56 390.51 L380.37 495.08 L381.95 502.24 L382.56 388.93 L383.19 494.90 L383.84 384.69 L384.53 493.98 L385.17 388.95 L385.89 494.90 L387.47 501.17 L388.06 389.19 L388.47 494.50 L388.94 384.63 L389.47 494.47 L389.91 391.06 L390.49 495.64 L393.29 501.90 L393.90 389.79 L396.42 497.23 L396.97 383.28 L397.46 495.20 L397.93 389.87 L398.41 494.18 L398.83 502.65 L399.48 388.88 L400.23 496.26 L400.83 384.21 L401.50 497.10 L402.13 391.33 L402.67 497.02 L404.37 502.83 L405.07 391.90 L405.79 497.74 L406.39 383.05 L407.10 496.63 L407.85 390.79 L408.62 495.44 L409.81 501.99 L410.44 392.32 L411.06 499.21 L411.71 383.74 L412.23 495.60 L412.67 388.79 L413.25 498.96 L415.51 502.13 L416.04 390.57 L416.65 496.74 L417.27 387.31 L417.79 496.87 L418.43 388.83 L419.18 498.34 L420.85 500.20 L421.27 390.48 L421.85 498.40 L422.36 383.55 L422.89 498.63 L423.48 392.07 L423.98 499.60 L426.40 502.82 L427.00 390.00 L427.59 496.33 L428.26 384.97 L428.99 498.54 L429.55 392.47 L430.25 498.27 L431.99 502.10 L432.71 391.29 L433.52 498.33 L434.13 384.91 L434.83 495.75 L435.46 389.46 L436.06 496.70 L437.72 502.88 L438.48 389.86 L439.09 495.98 L439.73 384.75 L440.49 495.26 L441.08 391.78 L441.85 495.23 L443.15 501.43 L443.79 391.77 L444.48 495.93 L445.06 385.15 L445.78 494.33 L446.55 388.99 L447.09 496.36 L448.60 500.66 L449.04 390.68 L449.49 496.87 L450.08 386.49 L450.51 495.56 L451.15 390.73 L451.77 496.21 L454.27 503.13 L454.86 389.21 L455.40 496.89 L455.94 384.92 L456.55 493.63 L457.26 391.98 L459.23 494.20 L459.72 501.34 L460.36 389.74 L461.04 494.76 L461.67 385.04 L462.51 494.09 L463.13 391.64 L463.79 494.00 L465.45 383.96 L466.18 494.41 L466.89 389.58 L467.63 502.01 L468.24 391.44 L468.82 497.42 L470.30 388.62 L471.15 501.63 L471.65 392.08 L472.18 497.78 L472.84 385.51 L473.36 496.12 L474.08 389.38 L474.78 496.67 L476.75 500.31 L477.35 390.25 L477.84 497.37 L478.31 384.57 L478.92 497.46 L479.45 388.79 L479.98 496.08 L482.16 501.22 L482.69 388.75 L483.23 495.91 L483.74 385.09 L484.27 496.63 L484.80 392.15 L485.47 498.13 L487.66 500.01" fill="none" stroke="#2d6a8b" stroke-width="1.05" stroke-linejoin="round" filter="url(#soft)"/>
<line x1="124.7" x2="488.0" y1="388.80" y2="388.80" stroke="#000" stroke-opacity="0.045" stroke-width="1"/>
<line x1="124.7" x2="488.0" y1="427.10" y2="427.10" stroke="#000" stroke-opacity="0.045" stroke-width="1"/>
<line x1="124.7" x2="488.0" y1="465.40" y2="465.40" stroke="#000" stroke-opacity="0.045" stroke-width="1"/>
<line x1="597.0" x2="961.0" y1="350.50" y2="350.50" stroke="#d2d2d2" stroke-width="1"/>
<text x="579.30" y="356.20" font-size="16" text-anchor="end" font-weight="normal" fill="#262626" stroke="#262626" stroke-width="0.3" textLength="28.80" lengthAdjust="spacingAndGlyphs">200</text>
<line x1="597.0" x2="961.0" y1="389.20" y2="389.20" stroke="#d2d2d2" stroke-width="1"/>
<text x="579.30" y="394.90" font-size="16" text-anchor="end" font-weight="normal" fill="#262626" stroke="#262626" stroke-width="0.3" textLength="28.80" lengthAdjust="spacingAndGlyphs">100</text>
<line x1="597.0" x2="961.0" y1="427.90" y2="427.90" stroke="#d2d2d2" stroke-width="1"/>
<text x="579.30" y="433.60" font-size="16" text-anchor="end" font-weight="normal" fill="#262626" stroke="#262626" stroke-width="0.3" textLength="9.60" lengthAdjust="spacingAndGlyphs">0</text>
<line x1="597.0" x2="961.0" y1="466.60" y2="466.60" stroke="#d2d2d2" stroke-width="1"/>
<text x="579.30" y="472.30" font-size="16" text-anchor="end" font-weight="normal" fill="#262626" stroke="#262626" stroke-width="0.3" textLength="34.65" lengthAdjust="spacingAndGlyphs">-100</text>
<line x1="597.0" x2="961.0" y1="505.30" y2="505.30" stroke="#d2d2d2" stroke-width="1"/>
<text x="579.30" y="511.00" font-size="16" text-anchor="end" font-weight="normal" fill="#262626" stroke="#262626" stroke-width="0.3" textLength="34.65" lengthAdjust="spacingAndGlyphs">-200</text>
<line x1="597.0" x2="961.0" y1="544.00" y2="544.00" stroke="#d2d2d2" stroke-width="1"/>
<text x="579.30" y="549.70" font-size="16" text-anchor="end" font-weight="normal" fill="#262626" stroke="#262626" stroke-width="0.3" textLength="34.65" lengthAdjust="spacingAndGlyphs">-300</text>
<line x1="597.0" x2="961.0" y1="582.70" y2="582.70" stroke="#d2d2d2" stroke-width="1"/>
<text x="579.30" y="588.40" font-size="16" text-anchor="end" font-weight="normal" fill="#262626" stroke="#262626" stroke-width="0.3" textLength="34.65" lengthAdjust="spacingAndGlyphs">-400</text>
<text x="598.00" y="613.80" font-size="16" text-anchor="middle" font-weight="normal" fill="#262626" stroke="#262626" stroke-width="0.3" textLength="23.30" lengthAdjust="spacingAndGlyphs">0.0</text>
<text x="670.20" y="613.80" font-size="16" text-anchor="middle" font-weight="normal" fill="#262626" stroke="#262626" stroke-width="0.3" textLength="23.30" lengthAdjust="spacingAndGlyphs">0.1</text>
<text x="742.40" y="613.80" font-size="16" text-anchor="middle" font-weight="normal" fill="#262626" stroke="#262626" stroke-width="0.3" textLength="23.30" lengthAdjust="spacingAndGlyphs">0.2</text>
<text x="814.60" y="613.80" font-size="16" text-anchor="middle" font-weight="normal" fill="#262626" stroke="#262626" stroke-width="0.3" textLength="23.30" lengthAdjust="spacingAndGlyphs">0.3</text>
<text x="886.80" y="613.80" font-size="16" text-anchor="middle" font-weight="normal" fill="#262626" stroke="#262626" stroke-width="0.3" textLength="23.30" lengthAdjust="spacingAndGlyphs">0.4</text>
<text x="959.00" y="613.80" font-size="16" text-anchor="middle" font-weight="normal" fill="#262626" stroke="#262626" stroke-width="0.3" textLength="23.30" lengthAdjust="spacingAndGlyphs">0.5</text>
<path d="M598.06 401.34 L598.46 376.91 L598.86 396.45 L599.14 511.25 L599.44 385.94 L599.74 522.25 L599.98 404.90 L600.24 514.83 L600.67 537.58 L601.14 534.45 L601.37 397.93 L601.67 519.73 L603.29 511.49 L603.56 404.90 L604.03 380.43 L604.45 407.74 L604.71 511.48 L605.00 384.29 L605.31 519.55 L605.55 397.06 L605.76 521.94 L606.27 541.39 L606.70 530.46 L607.00 411.58 L607.29 516.51 L609.01 512.36 L609.22 408.86 L609.58 379.29 L611.48 415.27 L611.72 518.42 L612.02 387.73 L612.27 518.34 L612.56 411.08 L612.79 516.77 L613.26 533.62 L613.77 513.10 L614.07 408.64 L614.32 511.99 L614.50 511.67 L614.78 415.71 L615.28 378.95 L615.79 405.98 L616.10 515.12 L616.35 406.80 L616.58 513.10 L616.88 414.29 L617.10 512.63 L617.52 538.80 L617.93 534.98 L618.23 417.45 L618.50 520.56 L620.17 513.01 L620.47 407.14 L620.98 381.70 L621.45 408.49 L621.75 516.06 L622.06 388.85 L622.35 513.87 L622.65 407.63 L622.97 522.21 L623.63 535.59 L624.29 515.34 L624.61 407.15 L624.90 522.98 L625.59 515.00 L625.90 415.28 L626.37 384.71 L627.80 418.64 L628.04 522.79 L628.30 400.89 L628.62 517.58 L628.90 414.55 L629.16 520.78 L629.75 538.69 L630.32 530.53 L630.58 407.06 L630.86 521.49 L631.15 514.34 L631.44 406.82 L631.83 385.49 L632.28 421.73 L632.53 521.16 L632.78 401.32 L633.04 513.12 L633.31 419.01 L633.52 523.15 L633.87 535.93 L634.38 528.79 L634.61 415.32 L634.85 519.97 L636.76 520.30 L637.04 411.78 L637.50 383.50 L638.11 406.45 L638.38 523.04 L639.39 397.89 L639.67 512.47 L639.99 408.33 L640.27 517.62 L640.76 536.01 L641.37 526.17 L641.73 419.84 L642.00 522.60 L642.33 516.63 L642.61 418.69 L643.04 385.85 L643.51 419.02 L643.74 515.14 L644.04 401.20 L644.27 524.19 L644.56 413.98 L644.85 513.27 L645.23 534.60 L645.74 529.94 L646.01 421.82 L646.28 514.11 L648.07 516.82 L648.34 419.43 L648.74 385.24 L649.19 419.05 L649.43 520.33 L649.72 393.11 L649.97 513.00 L650.25 411.13 L650.51 519.56 L650.91 535.92 L651.41 533.42 L651.63 407.78 L651.92 513.96 L653.58 513.73 L653.92 415.29 L654.43 389.48 L654.89 421.66 L655.23 515.52 L655.51 415.41 L655.87 516.94 L656.15 409.74 L656.50 523.69 L657.02 532.70 L657.63 529.66 L657.91 414.02 L658.27 513.97 L659.12 516.91 L659.41 420.25 L659.82 385.30 L660.20 413.31 L660.45 524.57 L660.74 418.70 L660.98 518.15 L661.30 417.01 L661.51 513.93 L661.92 539.37 L662.35 535.59 L662.60 411.70 L662.84 516.64 L664.57 520.47 L664.85 421.34 L665.22 384.34 L665.70 416.83 L665.95 520.89 L666.23 402.13 L666.46 514.43 L666.71 417.04 L666.99 521.20 L667.52 535.86 L667.94 532.76 L668.16 421.05 L668.39 516.82 L670.24 523.02 L670.52 425.76 L671.01 382.34 L671.56 412.58 L672.93 524.17 L673.24 426.47 L673.51 516.09 L673.77 412.30 L674.00 520.28 L674.40 535.06 L674.89 532.37 L675.19 422.53 L675.50 524.27 L675.76 518.75 L676.00 423.95 L676.45 382.74 L677.01 420.87 L677.33 520.00 L677.62 390.52 L677.91 514.65 L678.18 421.04 L678.50 521.69 L679.00 535.35 L679.42 530.52 L679.73 423.48 L680.08 522.26 L681.46 513.63 L681.68 422.55 L682.05 378.46 L682.53 409.45 L682.79 516.68 L683.10 394.97 L683.42 515.93 L683.65 416.94 L683.90 522.57 L684.34 536.12 L684.81 531.89 L685.12 416.72 L685.40 518.79 L686.96 524.19 L687.20 413.88 L687.67 378.48 L688.14 412.43 L688.39 517.57 L688.66 390.82 L688.93 516.46 L689.14 406.58 L690.95 516.28 L691.34 538.70 L691.76 533.34 L692.01 411.09 L692.26 524.35 L692.39 514.58 L692.64 415.32 L693.15 380.96 L693.56 402.57 L693.80 517.80 L694.06 392.12 L694.31 513.27 L694.63 403.59 L694.88 515.37 L695.33 539.87 L695.79 536.81 L696.08 417.13 L696.41 524.72 L698.21 523.51 L698.52 415.44 L699.07 378.63 L699.64 410.59 L699.89 523.96 L700.22 409.35 L700.46 519.57 L700.69 401.55 L700.96 514.28 L701.40 535.62 L701.94 532.75 L702.24 401.45 L702.51 517.14 L703.53 514.81 L703.79 403.38 L704.35 377.78 L704.84 415.94 L705.08 523.56 L705.42 384.19 L705.70 523.58 L705.95 404.14 L706.22 519.26 L706.68 537.94 L707.09 530.97 L707.36 404.47 L707.62 524.71 L709.18 523.66 L709.43 402.89 L710.00 377.89 L710.41 400.55 L710.70 518.28 L712.13 412.51 L712.47 519.91 L712.71 411.70 L713.03 515.80 L713.50 536.65 L713.91 533.14 L714.19 404.39 L714.50 516.35 L714.88 521.91 L715.18 400.25 L715.62 376.33 L716.13 415.56 L716.40 513.82 L716.65 402.64 L716.90 515.52 L717.20 405.11 L717.47 522.43 L717.96 540.26 L719.50 529.01 L719.85 399.20 L720.18 514.27 L720.31 520.96 L720.60 405.42 L721.02 374.88 L721.39 416.12 L721.67 520.38 L721.89 381.73 L722.18 518.43 L722.41 403.38 L722.62 522.22 L724.69 541.46 L725.08 525.66 L725.35 404.45 L725.57 518.47 L725.94 522.70 L726.25 402.19 L726.71 375.99 L727.14 402.69 L727.46 525.62 L727.81 411.25 L728.15 515.23 L728.43 413.06 L728.67 518.99 L729.13 535.11 L730.56 528.96 L730.91 419.08 L731.18 514.54 L731.37 516.26 L731.64 413.82 L732.13 378.83 L732.63 416.69 L732.85 525.62 L734.38 394.07 L734.69 515.72 L734.97 419.16 L735.21 517.78 L735.74 537.02 L736.12 528.43 L736.35 419.48 L736.66 518.40 L737.20 525.23 L737.43 409.00 L737.82 374.38 L738.19 418.85 L739.95 516.80 L740.19 390.05 L740.42 518.00 L740.71 410.59 L740.99 525.90 L741.41 539.67 L741.92 536.52 L742.19 417.48 L742.49 524.07 L742.63 517.70 L742.92 421.21 L743.44 377.35 L743.95 412.22 L744.20 522.43 L744.46 384.66 L744.78 515.93 L745.04 413.94 L745.34 521.98 L745.79 538.83 L746.30 536.23 L746.51 417.81 L746.73 515.21 L748.27 515.09 L748.58 410.24 L749.12 380.70 L749.69 421.89 L749.99 520.89 L750.25 414.15 L750.54 517.76 L750.81 408.07 L751.07 521.39 L751.51 540.38 L751.94 531.17 L752.23 413.00 L752.46 521.96 L753.73 515.49 L754.01 417.28 L754.54 375.56 L755.06 408.66 L755.35 520.19 L755.58 409.83 L755.85 522.28 L756.09 411.16 L756.37 520.61 L756.78 540.52 L757.18 524.23 L757.51 409.91 L757.83 525.43 L759.40 515.18 L759.64 421.92 L760.05 372.66 L760.45 413.89 L760.71 518.72 L761.01 382.59 L761.25 523.40 L761.53 409.45 L761.75 525.48 L762.26 544.23 L762.66 535.95 L764.44 421.28 L764.73 525.45 L764.74 520.53 L765.08 409.10 L765.52 377.04 L766.04 411.60 L766.28 517.70 L766.59 419.03 L766.83 520.38 L767.14 419.44 L767.38 525.64 L767.86 541.59 L769.40 526.82 L769.67 419.90 L770.02 517.64 L770.53 520.11 L770.81 419.23 L771.27 375.23 L771.72 419.19 L772.01 520.59 L772.29 389.67 L772.59 523.88 L772.87 408.25 L773.17 523.56 L773.69 539.28 L774.18 529.58 L774.42 415.87 L774.69 527.36 L775.87 526.59 L776.21 403.50 L776.76 373.28 L777.31 412.66 L777.61 518.40 L777.88 396.48 L778.14 523.55 L778.41 407.24 L778.77 527.00 L779.36 543.43 L779.90 532.11 L780.22 401.48 L780.56 525.79 L781.72 524.14 L782.06 404.71 L782.56 372.33 L782.97 402.62 L783.29 520.69 L783.55 413.72 L783.83 525.57 L784.09 401.70 L784.38 524.10 L784.82 542.33 L785.27 531.25 L785.52 412.68 L785.86 523.67 L787.24 524.64 L787.49 405.36 L788.04 371.34 L788.47 408.56 L788.79 520.66 L789.11 382.27 L789.45 517.95 L789.69 402.78 L789.93 524.51 L790.33 538.27 L790.78 532.06 L791.11 413.04 L791.41 527.49 L792.97 525.02 L793.30 401.72 L793.78 371.87 L794.26 398.18 L794.56 514.51 L794.86 382.85 L795.14 524.84 L795.38 403.21 L795.71 519.03 L796.14 540.32 L796.71 515.62 L796.98 400.87 L797.25 524.37 L798.29 521.93 L798.50 397.02 L798.87 371.51 L799.35 400.28 L799.57 515.28 L799.78 399.67 L800.01 515.23 L800.32 395.23 L800.57 517.90 L800.95 549.98 L801.41 537.05 L801.66 402.59 L801.92 521.66 L803.72 520.61 L804.02 402.86 L804.48 370.60 L804.92 410.26 L805.22 514.60 L805.45 401.23 L805.78 521.98 L806.10 394.60 L807.60 524.14 L808.06 545.15 L808.51 520.83 L808.78 410.37 L809.05 518.43 L809.56 515.86 L809.84 399.33 L810.35 371.51 L810.81 409.93 L811.02 514.25 L811.30 376.52 L811.55 517.55 L811.84 406.83 L812.06 520.92 L812.46 543.57 L812.96 531.01 L813.25 409.34 L813.55 524.81 L814.97 525.97 L815.31 396.28 L815.87 373.87 L816.36 393.43 L816.74 525.65 L817.07 385.57 L817.34 518.89 L818.17 409.51 L818.53 521.67 L819.02 543.23 L819.63 539.06 L819.92 410.55 L820.24 514.07 L820.61 516.96 L820.86 409.60 L821.39 371.16 L821.87 398.17 L822.17 526.97 L822.44 386.28 L822.68 515.32 L824.22 395.95 L824.47 517.36 L824.87 549.47 L825.35 534.36 L825.58 396.55 L825.88 515.61 L826.19 525.94 L826.50 393.84 L827.75 371.58 L828.30 398.98 L828.61 526.86 L828.92 384.29 L829.22 518.51 L829.56 402.05 L829.88 524.61 L830.42 541.50 L830.84 516.25 L831.11 404.83 L831.47 517.69 L831.75 518.78 L832.00 408.39 L832.45 373.76 L833.03 412.23 L833.35 520.81 L833.62 389.04 L833.88 522.42 L834.23 402.47 L834.53 514.07 L835.02 541.80 L835.58 535.65 L835.91 407.86 L836.28 526.67 L837.28 520.26 L837.56 396.71 L839.26 372.19 L839.78 398.61 L840.12 525.34 L840.39 381.60 L840.67 523.58 L840.93 401.95 L841.19 516.68 L841.60 547.55 L842.04 534.59 L842.29 413.60 L842.57 519.66 L842.87 518.24 L843.14 406.86 L843.69 377.05 L844.26 404.02 L844.59 520.21 L844.88 381.95 L845.20 516.19 L845.47 399.65 L845.83 518.46 L846.45 542.25 L846.87 535.31 L847.19 413.70 L847.52 517.70 L848.40 526.42 L849.83 407.36 L850.24 376.07 L850.70 414.63 L850.99 525.91 L851.26 408.15 L851.51 521.66 L851.76 409.09 L852.05 522.13 L852.59 541.79 L853.12 518.13 L853.43 407.39 L853.73 525.05 L853.99 521.67 L854.24 409.59 L856.41 376.80 L856.77 408.55 L856.98 526.35 L857.18 419.25 L857.39 518.85 L857.61 407.39 L857.88 520.90 L858.32 543.45 L858.79 519.05 L859.04 414.74 L859.28 517.81 L859.56 518.09 L859.87 417.55 L860.42 376.83 L860.99 414.23 L861.25 518.97 L861.54 389.71 L861.80 516.11 L862.12 412.06 L862.42 517.22 L862.89 544.82 L863.35 535.29 L863.71 414.94 L864.01 524.67 L865.20 514.96 L865.45 405.02 L865.90 370.65 L866.28 417.15 L866.56 518.99 L866.79 418.61 L867.06 520.99 L867.32 418.52 L867.61 524.04 L868.12 547.57 L868.64 535.61 L868.90 406.43 L869.13 520.28 L870.78 515.65 L871.06 409.79 L873.05 371.26 L873.51 415.67 L873.79 517.88 L874.03 379.99 L874.25 517.95 L874.44 413.38 L874.70 514.44 L875.15 541.75 L875.59 536.12 L875.84 405.07 L876.09 520.04 L876.26 519.22 L876.55 408.77 L877.07 371.13 L877.63 407.69 L877.91 522.79 L878.21 382.31 L878.52 524.65 L878.81 411.76 L879.07 523.75 L879.68 546.95 L880.81 521.52 L881.18 413.68 L881.53 523.19 L881.97 521.37 L882.20 400.53 L882.76 369.77 L883.31 411.43 L883.64 525.50 L883.90 396.46 L884.15 517.12 L884.47 400.26 L884.76 519.10 L885.19 544.32 L885.59 515.55 L886.92 396.84 L887.23 522.00 L887.30 519.01 L887.57 400.11 L888.14 370.35 L888.66 400.27 L888.95 521.13 L889.25 400.95 L889.52 522.83 L889.88 400.86 L890.19 513.58 L890.79 542.65 L891.42 529.56 L891.76 400.56 L892.59 519.69 L893.04 523.98 L893.27 393.65 L893.75 371.15 L894.18 409.17 L894.45 517.74 L894.70 379.57 L894.92 525.06 L895.19 404.57 L895.45 518.43 L895.81 543.43 L896.20 524.56 L896.41 409.71 L898.32 513.30 L898.60 524.62 L898.89 395.61 L899.27 370.86 L899.73 407.20 L900.04 523.99 L900.28 378.05 L900.58 518.26 L900.88 394.87 L901.12 522.98 L901.66 542.55 L902.08 538.68 L902.41 405.50 L902.67 516.49 L904.28 523.06 L904.64 405.32 L905.14 369.28 L905.63 404.82 L905.99 524.78 L906.26 375.49 L906.59 518.70 L906.95 397.33 L907.31 517.14 L907.76 537.83 L908.27 534.70 L908.55 403.02 L908.88 525.27 L909.64 516.14 L909.87 399.69 L910.37 371.73 L910.73 401.90 L910.96 521.92 L911.19 386.61 L911.48 520.90 L911.70 407.56 L912.00 523.25 L912.37 541.93 L912.82 531.69 L913.11 396.28 L913.37 523.96 L915.16 520.19 L915.53 407.19 L915.96 373.16 L916.55 406.15 L916.89 512.94 L917.14 389.94 L917.49 513.75 L917.82 404.81 L918.09 517.10 L919.21 544.19 L919.77 537.78 L920.08 410.79 L920.46 516.32 L920.74 514.91 L921.08 401.53 L921.59 373.93 L922.06 412.32 L922.39 520.13 L922.66 384.79 L922.98 520.30 L923.31 407.04 L923.56 517.05 L924.09 540.38 L924.62 536.55 L924.97 412.49 L925.25 522.68 L926.47 520.66 L927.95 406.10 L928.48 375.54 L928.93 417.51 L929.20 520.35 L929.45 393.09 L929.73 516.53 L930.02 411.22 L930.29 522.25 L930.81 541.78 L931.25 530.80 L931.46 414.75 L931.77 520.76 L931.84 521.61 L932.15 403.77 L932.56 377.95 L933.08 413.40 L933.38 514.64 L933.65 385.74 L933.96 521.06 L934.23 402.76 L935.77 520.11 L936.15 541.54 L936.57 530.86 L936.85 406.33 L937.12 522.93 L937.58 517.16 L937.83 411.80 L938.22 380.52 L938.66 408.19 L938.94 521.32 L939.16 416.62 L939.38 522.07 L939.67 420.55 L939.99 524.52 L940.52 539.30 L940.95 531.25 L942.53 418.09 L942.83 518.24 L943.32 523.21 L943.65 414.08 L944.18 379.94 L944.57 406.67 L945.94 520.13 L946.21 388.78 L946.50 521.04 L946.78 417.38 L947.10 517.10 L947.58 544.11 L948.09 535.46 L948.35 414.23 L948.59 517.73 L948.62 520.32 L948.90 417.43 L950.06 377.70 L950.59 411.02 L950.90 516.69 L951.23 387.34 L951.54 521.59 L951.82 412.13 L952.16 517.47 L952.65 539.58 L953.15 536.40 L953.50 416.67 L953.84 513.36 L954.35 513.23 L954.64 415.22 L955.13 381.98 L955.57 415.85 L955.86 521.47 L956.09 394.00 L956.38 524.37 L956.70 418.53 L957.00 520.64 L957.51 537.97 L957.94 533.03 L958.25 416.85 L958.52 523.88 L959.88 514.83 L960.18 407.19 L960.64 380.78" fill="none" stroke="#2d6a8b" stroke-width="1.05" stroke-linejoin="round" filter="url(#soft)"/>
<line x1="597.0" x2="961.0" y1="389.20" y2="389.20" stroke="#000" stroke-opacity="0.045" stroke-width="1"/>
<line x1="597.0" x2="961.0" y1="427.90" y2="427.90" stroke="#000" stroke-opacity="0.045" stroke-width="1"/>
<line x1="597.0" x2="961.0" y1="466.60" y2="466.60" stroke="#000" stroke-opacity="0.045" stroke-width="1"/>
<line x1="597.0" x2="961.0" y1="505.30" y2="505.30" stroke="#000" stroke-opacity="0.045" stroke-width="1"/>
<line x1="597.0" x2="961.0" y1="544.00" y2="544.00" stroke="#000" stroke-opacity="0.045" stroke-width="1"/>
<text x="212.00" y="20.50" font-size="19.5" text-anchor="start" font-weight="bold" fill="#111" stroke="#111" stroke-width="0.35" textLength="6.90" lengthAdjust="spacingAndGlyphs">f</text>
<text x="219.10" y="22.50" font-size="13.5" text-anchor="start" font-weight="bold" fill="#111" stroke="#111" stroke-width="0.35" textLength="6.00" lengthAdjust="spacingAndGlyphs">z</text>
<text x="230.80" y="20.50" font-size="19.5" text-anchor="start" font-weight="bold" fill="#111" stroke="#111" stroke-width="0.35" textLength="10.20" lengthAdjust="spacingAndGlyphs">=</text>
<text x="248.00" y="20.50" font-size="19.5" text-anchor="start" font-weight="bold" fill="#111" stroke="#111" stroke-width="0.35" textLength="41.00" lengthAdjust="spacingAndGlyphs">0.05</text>
<text x="296.70" y="20.50" font-size="19.5" text-anchor="start" font-weight="bold" fill="#111" stroke="#111" stroke-width="0.35" textLength="37.50" lengthAdjust="spacingAndGlyphs">mm</text>
<text transform="translate(338.80,22.6) skewX(-12)" font-size="23" font-weight="bold" fill="#111" stroke="#111" stroke-width="0.7" text-anchor="middle">/</text>
<text x="345.90" y="20.50" font-size="19.5" text-anchor="start" font-weight="bold" fill="#111" stroke="#111" stroke-width="0.35" textLength="53.40" lengthAdjust="spacingAndGlyphs">tooth</text>
<text x="682.50" y="20.50" font-size="19.5" text-anchor="start" font-weight="bold" fill="#111" stroke="#111" stroke-width="0.35" textLength="6.90" lengthAdjust="spacingAndGlyphs">f</text>
<text x="689.60" y="22.50" font-size="13.5" text-anchor="start" font-weight="bold" fill="#111" stroke="#111" stroke-width="0.35" textLength="6.00" lengthAdjust="spacingAndGlyphs">z</text>
<text x="701.30" y="20.50" font-size="19.5" text-anchor="start" font-weight="bold" fill="#111" stroke="#111" stroke-width="0.35" textLength="10.20" lengthAdjust="spacingAndGlyphs">=</text>
<text x="718.50" y="20.50" font-size="19.5" text-anchor="start" font-weight="bold" fill="#111" stroke="#111" stroke-width="0.35" textLength="41.00" lengthAdjust="spacingAndGlyphs">0.15</text>
<text x="767.20" y="20.50" font-size="19.5" text-anchor="start" font-weight="bold" fill="#111" stroke="#111" stroke-width="0.35" textLength="37.50" lengthAdjust="spacingAndGlyphs">mm</text>
<text transform="translate(809.30,22.6) skewX(-12)" font-size="23" font-weight="bold" fill="#111" stroke="#111" stroke-width="0.7" text-anchor="middle">/</text>
<text x="816.40" y="20.50" font-size="19.5" text-anchor="start" font-weight="bold" fill="#111" stroke="#111" stroke-width="0.35" textLength="53.40" lengthAdjust="spacingAndGlyphs">tooth</text>
<text transform="translate(62.90,180.80) rotate(-90)" font-size="19.4" font-weight="normal" fill="#262626" stroke="#262626" stroke-width="0.3" textLength="7.20" lengthAdjust="spacingAndGlyphs">F</text>
<text transform="translate(67.60,172.20) rotate(-90)" font-size="12" font-weight="normal" fill="#262626" stroke="#262626" stroke-width="0.3" textLength="5.90" lengthAdjust="spacingAndGlyphs">x</text>
<text transform="translate(62.90,161.80) rotate(-90)" font-size="19.4" font-weight="normal" fill="#262626" stroke="#262626" stroke-width="0.3" textLength="26.80" lengthAdjust="spacingAndGlyphs">(N)</text>
<text transform="translate(534.80,180.80) rotate(-90)" font-size="19.4" font-weight="normal" fill="#262626" stroke="#262626" stroke-width="0.3" textLength="7.20" lengthAdjust="spacingAndGlyphs">F</text>
<text transform="translate(539.50,172.20) rotate(-90)" font-size="12" font-weight="normal" fill="#262626" stroke="#262626" stroke-width="0.3" textLength="5.90" lengthAdjust="spacingAndGlyphs">x</text>
<text transform="translate(534.80,161.80) rotate(-90)" font-size="19.4" font-weight="normal" fill="#262626" stroke="#262626" stroke-width="0.3" textLength="26.80" lengthAdjust="spacingAndGlyphs">(N)</text>
<text transform="translate(62.90,488.70) rotate(-90)" font-size="19.4" font-weight="normal" fill="#262626" stroke="#262626" stroke-width="0.3" textLength="7.20" lengthAdjust="spacingAndGlyphs">F</text>
<text transform="translate(67.60,480.10) rotate(-90)" font-size="12" font-weight="normal" fill="#262626" stroke="#262626" stroke-width="0.3" textLength="5.90" lengthAdjust="spacingAndGlyphs">x</text>
<text transform="translate(62.90,469.70) rotate(-90)" font-size="19.4" font-weight="normal" fill="#262626" stroke="#262626" stroke-width="0.3" textLength="26.80" lengthAdjust="spacingAndGlyphs">(N)</text>
<text transform="translate(534.80,488.70) rotate(-90)" font-size="19.4" font-weight="normal" fill="#262626" stroke="#262626" stroke-width="0.3" textLength="7.20" lengthAdjust="spacingAndGlyphs">F</text>
<text transform="translate(539.50,480.10) rotate(-90)" font-size="12" font-weight="normal" fill="#262626" stroke="#262626" stroke-width="0.3" textLength="5.90" lengthAdjust="spacingAndGlyphs">x</text>
<text transform="translate(534.80,469.70) rotate(-90)" font-size="19.4" font-weight="normal" fill="#262626" stroke="#262626" stroke-width="0.3" textLength="26.80" lengthAdjust="spacingAndGlyphs">(N)</text>
<text x="290.00" y="328.60" font-size="19.2" text-anchor="start" font-weight="normal" fill="#262626" stroke="#262626" stroke-width="0.3" textLength="33.00" lengthAdjust="spacingAndGlyphs">t (s)</text>
<text x="761.80" y="328.60" font-size="19.2" text-anchor="start" font-weight="normal" fill="#262626" stroke="#262626" stroke-width="0.3" textLength="33.00" lengthAdjust="spacingAndGlyphs">t (s)</text>
<text x="290.00" y="635.00" font-size="19.2" text-anchor="start" font-weight="normal" fill="#262626" stroke="#262626" stroke-width="0.3" textLength="33.00" lengthAdjust="spacingAndGlyphs">t (s)</text>
<text x="762.00" y="636.50" font-size="19.2" text-anchor="start" font-weight="normal" fill="#262626" stroke="#262626" stroke-width="0.3" textLength="33.00" lengthAdjust="spacingAndGlyphs">t (s)</text>
<text transform="translate(18.60,178.30) rotate(-90)" font-size="19.5" font-weight="bold" fill="#111" stroke="#111" stroke-width="0.35" textLength="37.00" lengthAdjust="spacingAndGlyphs">PCD</text>
<text transform="translate(18.20,508.50) rotate(-90)" font-size="19.5" font-weight="bold" fill="#111" stroke="#111" stroke-width="0.35" textLength="77.00" lengthAdjust="spacingAndGlyphs">Carbide</text>
</svg>
</body></html>
